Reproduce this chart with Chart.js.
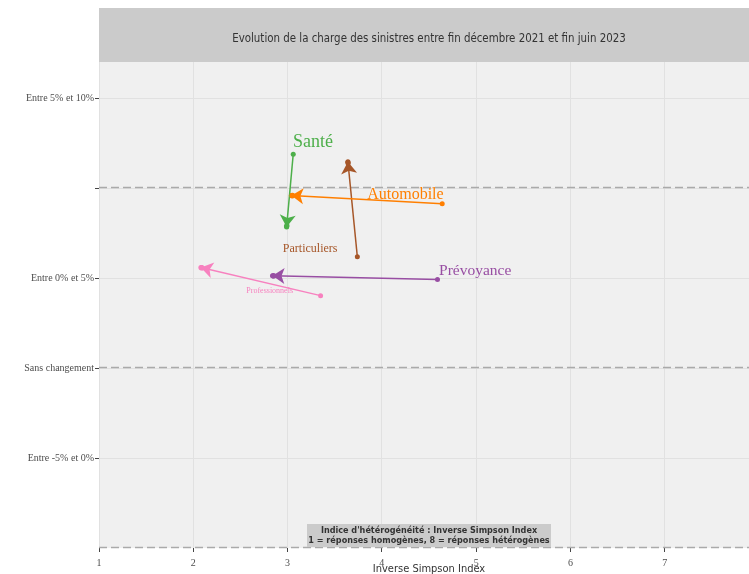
<!DOCTYPE html>
<html>
<head>
<meta charset="utf-8">
<script src="https://cdn.jsdelivr.net/npm/chart.js@4"></script>
<style>
  html, body { margin: 0; padding: 0; background: #fff; overflow: hidden; }
  #wrap { width: 749px; height: 574px; overflow: hidden; }
</style>
</head>
<body>
<div id="wrap"><canvas id="chart" width="763" height="574"></canvas></div>
<script>
// Data
const segments = ['Santé', 'Automobile', 'Particuliers', 'Prévoyance', 'Professionnels'];
const startX = [3.06, 4.64, 3.74, 4.59, 3.35];
const startY = [5.94, 4.56, 3.09, 2.46, 2.01];
const endX = [2.99, 3.04, 3.64, 2.84, 2.08];
const endY = [3.92, 4.79, 5.73, 2.56, 2.79];
const labelX = [3.27, 4.25, 3.24, 4.99, 2.81];
const labelY = [6.26, 4.8, 3.31, 2.7, 2.14];
const labelSizes = [18, 16, 12, 15.5, 8];
const colors = ['#4daf4a', '#ff7f00', '#a65628', '#984ea3', '#f781bf'];

const yTicks = [-2.5, 0, 2.5, 5, 7.5];
const yTickLabels = ['Entre -5% et 0%', 'Sans changement', 'Entre 0% et 5%', '', 'Entre 5% et 10%'];
const dashedLevels = [-5, 0, 5];
const xTicks = [1, 2, 3, 4, 5, 6, 7];

const chartTitle = 'Evolution de la charge des sinistres entre fin décembre 2021 et fin juin 2023';
const xTitle = 'Inverse Simpson Index';
const noteLines = ["Indice d'hétérogénéité : Inverse Simpson Index", '1 = réponses homogènes, 8 = réponses hétérogènes'];

const sansFont = '"Liberation Sans Narrow", "DejaVu Sans Condensed", sans-serif';
const serifFont = '"Liberation Serif", "DejaVu Serif", serif';

const datasets = segments.map((name, i) => ({
    label: name,
    data: [{ x: startX[i], y: startY[i] }, { x: endX[i], y: endY[i] }],
    showLine: true,
    borderColor: colors[i],
    backgroundColor: colors[i],
    borderWidth: 1.5,
    pointRadius: [2.5, 2.5],
    pointBorderWidth: 0,
    pointBackgroundColor: colors[i]
}));

const decorPlugin = {
    id: 'decor',
    beforeDraw(chart) {
        const { ctx, chartArea } = chart;
        ctx.save();
        // panel background
        ctx.fillStyle = '#f0f0f0';
        ctx.fillRect(chartArea.left, chartArea.top, chartArea.right - chartArea.left, chartArea.bottom - chartArea.top);
        // title strip
        ctx.fillStyle = '#cbcbcb';
        ctx.fillRect(chartArea.left, 8, chartArea.right - chartArea.left, chartArea.top - 8);
        ctx.fillStyle = '#333';
        ctx.font = '11.4px ' + sansFont;
        ctx.textAlign = 'center';
        ctx.textBaseline = 'middle';
        ctx.fillText(chartTitle, (chartArea.left + chartArea.right) / 2, 39);
        ctx.restore();
    },
    beforeDatasetsDraw(chart) {
        const { ctx, chartArea, scales } = chart;
        ctx.save();
        ctx.strokeStyle = '#aaaaaa';
        ctx.lineWidth = 1.3;
        ctx.setLineDash([8, 4]);
        dashedLevels.forEach(v => {
            const py = Math.round(scales.y.getPixelForValue(v)) - 0.5;
            ctx.beginPath();
            ctx.moveTo(chartArea.left, py);
            ctx.lineTo(chartArea.right, py);
            ctx.stroke();
        });
        ctx.restore();
    },
    afterDatasetsDraw(chart) {
        const { ctx, chartArea, scales } = chart;
        ctx.save();
        // arrow heads
        segments.forEach((name, i) => {
            const x0 = scales.x.getPixelForValue(startX[i]);
            const y0 = scales.y.getPixelForValue(startY[i]);
            const x1 = scales.x.getPixelForValue(endX[i]);
            const y1 = scales.y.getPixelForValue(endY[i]);
            const a = Math.atan2(y1 - y0, x1 - x0);
            const len = 12, half = 8, notch = 9;
            ctx.save();
            ctx.translate(x1, y1);
            ctx.rotate(a);
            ctx.fillStyle = colors[i];
            ctx.beginPath();
            ctx.moveTo(0, 0);
            ctx.lineTo(-len, -half);
            ctx.lineTo(-notch, 0);
            ctx.lineTo(-len, half);
            ctx.closePath();
            ctx.fill();
            ctx.beginPath();
            ctx.arc(-1, 0, 2.8, 0, Math.PI * 2);
            ctx.fill();
            ctx.restore();
        });
        // series labels
        ctx.textAlign = 'center';
        ctx.textBaseline = 'middle';
        segments.forEach((name, i) => {
            ctx.fillStyle = colors[i];
            ctx.font = labelSizes[i] + 'px ' + serifFont;
            ctx.fillText(name, scales.x.getPixelForValue(labelX[i]), scales.y.getPixelForValue(labelY[i]));
        });
        // note box
        const cx = 429;
        ctx.fillStyle = '#cbcbcb';
        ctx.fillRect(cx - 122, chartArea.bottom - 24, 244, 23);
        ctx.fillStyle = '#333';
        ctx.font = 'bold 9px "DejaVu Sans Condensed", "Liberation Sans", sans-serif';
        ctx.fillText(noteLines[0], cx, chartArea.bottom - 17.5);
        ctx.fillText(noteLines[1], cx, chartArea.bottom - 7.5);
        // x axis title
        ctx.font = '11px "DejaVu Sans Condensed", "Liberation Sans", sans-serif';
        ctx.fillStyle = '#333';
        ctx.fillText(xTitle, cx, 569);
        ctx.restore();
    }
};

new Chart(document.getElementById('chart'), {
    type: 'scatter',
    data: { datasets: datasets },
    options: {
        responsive: false,
        animation: false,
        layout: { padding: { top: 62, right: 0, left: 0, bottom: 0 } },
        plugins: {
            legend: { display: false },
            tooltip: { enabled: false }
        },
        scales: {
            x: {
                type: 'linear',
                min: 1,
                max: 8,
                afterFit: scale => { scale.height = 26; },
                afterBuildTicks: scale => { scale.ticks = xTicks.map(v => ({ value: v })); },
                border: { display: false },
                grid: { color: '#e1e1e1', tickColor: '#444', tickLength: 4, lineWidth: 1 },
                ticks: {
                    padding: 5,
                    color: '#4d4d4d',
                    font: { family: serifFont, size: 10 },
                    maxRotation: 0
                }
            },
            y: {
                type: 'linear',
                min: -5,
                max: 8.5,
                afterFit: scale => { scale.width = 99; },
                afterBuildTicks: scale => { scale.ticks = yTicks.map(v => ({ value: v })); },
                border: { display: false },
                grid: { color: '#e1e1e1', tickColor: '#444', tickLength: 4, lineWidth: 1 },
                ticks: {
                    padding: 1,
                    color: '#4d4d4d',
                    font: { family: serifFont, size: 10 },
                    callback: (value) => {
                        const k = yTicks.indexOf(value);
                        return k >= 0 ? yTickLabels[k] : '';
                    }
                }
            }
        }
    },
    plugins: [decorPlugin]
});
</script>
</body>
</html>
